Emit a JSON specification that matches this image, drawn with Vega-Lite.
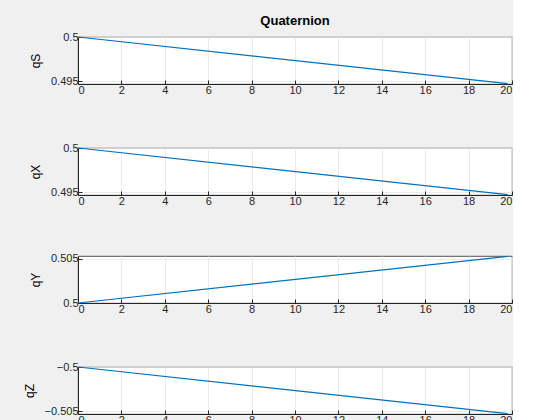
{
  "$schema": "https://vega.github.io/schema/vega-lite/v6.json",
  "padding": {"left": 22, "top": 14, "right": 0, "bottom": 0},
  "background": "#f0f0f0",
  "data": {"values": [
    {"t": 0, "qS": 0.5, "qX": 0.5, "qY": 0.5, "qZ": -0.5},
    {"t": 19.8, "qS": 0.49475, "qX": 0.49475, "qY": 0.50525, "qZ": -0.50525}
  ]},
  "spacing": 45,
  "vconcat": [
    {
      "title": {"text": "Quaternion", "fontSize": 13, "fontWeight": "bold", "font": "Liberation Sans", "color": "#000", "offset": 3},
      "width": 434, "height": 47,
      "mark": {"type": "line", "color": "#0072BD", "strokeWidth": 1.2},
      "encoding": {
        "x": {"field": "t", "type": "quantitative", "scale": {"domain": [0, 20], "nice": false}, "axis": {"values": [0,2,4,6,8,10,12,14,16,18,20], "title": null}},
        "y": {"field": "qS", "type": "quantitative", "scale": {"domain": [0.4947, 0.5], "nice": false, "zero": false}, "axis": {"values": [0.495, 0.5], "format": "~g", "title": "qS"}}
      }
    },
    {
      "width": 434, "height": 47,
      "mark": {"type": "line", "color": "#0072BD", "strokeWidth": 1.2},
      "encoding": {
        "x": {"field": "t", "type": "quantitative", "scale": {"domain": [0, 20], "nice": false}, "axis": {"values": [0,2,4,6,8,10,12,14,16,18,20], "title": null}},
        "y": {"field": "qX", "type": "quantitative", "scale": {"domain": [0.4947, 0.5], "nice": false, "zero": false}, "axis": {"values": [0.495, 0.5], "format": "~g", "title": "qX"}}
      }
    },
    {
      "width": 434, "height": 47,
      "mark": {"type": "line", "color": "#0072BD", "strokeWidth": 1.2},
      "encoding": {
        "x": {"field": "t", "type": "quantitative", "scale": {"domain": [0, 20], "nice": false}, "axis": {"values": [0,2,4,6,8,10,12,14,16,18,20], "title": null}},
        "y": {"field": "qY", "type": "quantitative", "scale": {"domain": [0.5, 0.5053], "nice": false, "zero": false}, "axis": {"values": [0.5, 0.505], "format": "~g", "title": "qY"}}
      }
    },
    {
      "width": 434, "height": 47,
      "mark": {"type": "line", "color": "#0072BD", "strokeWidth": 1.2},
      "encoding": {
        "x": {"field": "t", "type": "quantitative", "scale": {"domain": [0, 20], "nice": false}, "axis": {"values": [0,2,4,6,8,10,12,14,16,18,20], "title": "Time (s)"}},
        "y": {"field": "qZ", "type": "quantitative", "scale": {"domain": [-0.5053, -0.5], "nice": false, "zero": false}, "axis": {"values": [-0.505, -0.5], "format": "~g", "title": "qZ"}}
      }
    }
  ],
  "config": {
    "view": {"fill": "white", "stroke": "#262626", "strokeWidth": 0.8},
    "axis": {
      "labelFont": "Liberation Sans", "titleFont": "Liberation Sans",
      "labelFontSize": 11, "titleFontSize": 12, "titleFontWeight": "normal",
      "labelColor": "#262626", "titleColor": "#000",
      "domainColor": "#262626", "tickColor": "#262626",
      "tickSize": -4, "labelPadding": 4,
      "grid": true, "gridColor": "#e6e6e6", "gridWidth": 0.8
    },
    "axisY": {"titlePadding": 8},
    "axisX": {"titlePadding": 2}
  }
}
